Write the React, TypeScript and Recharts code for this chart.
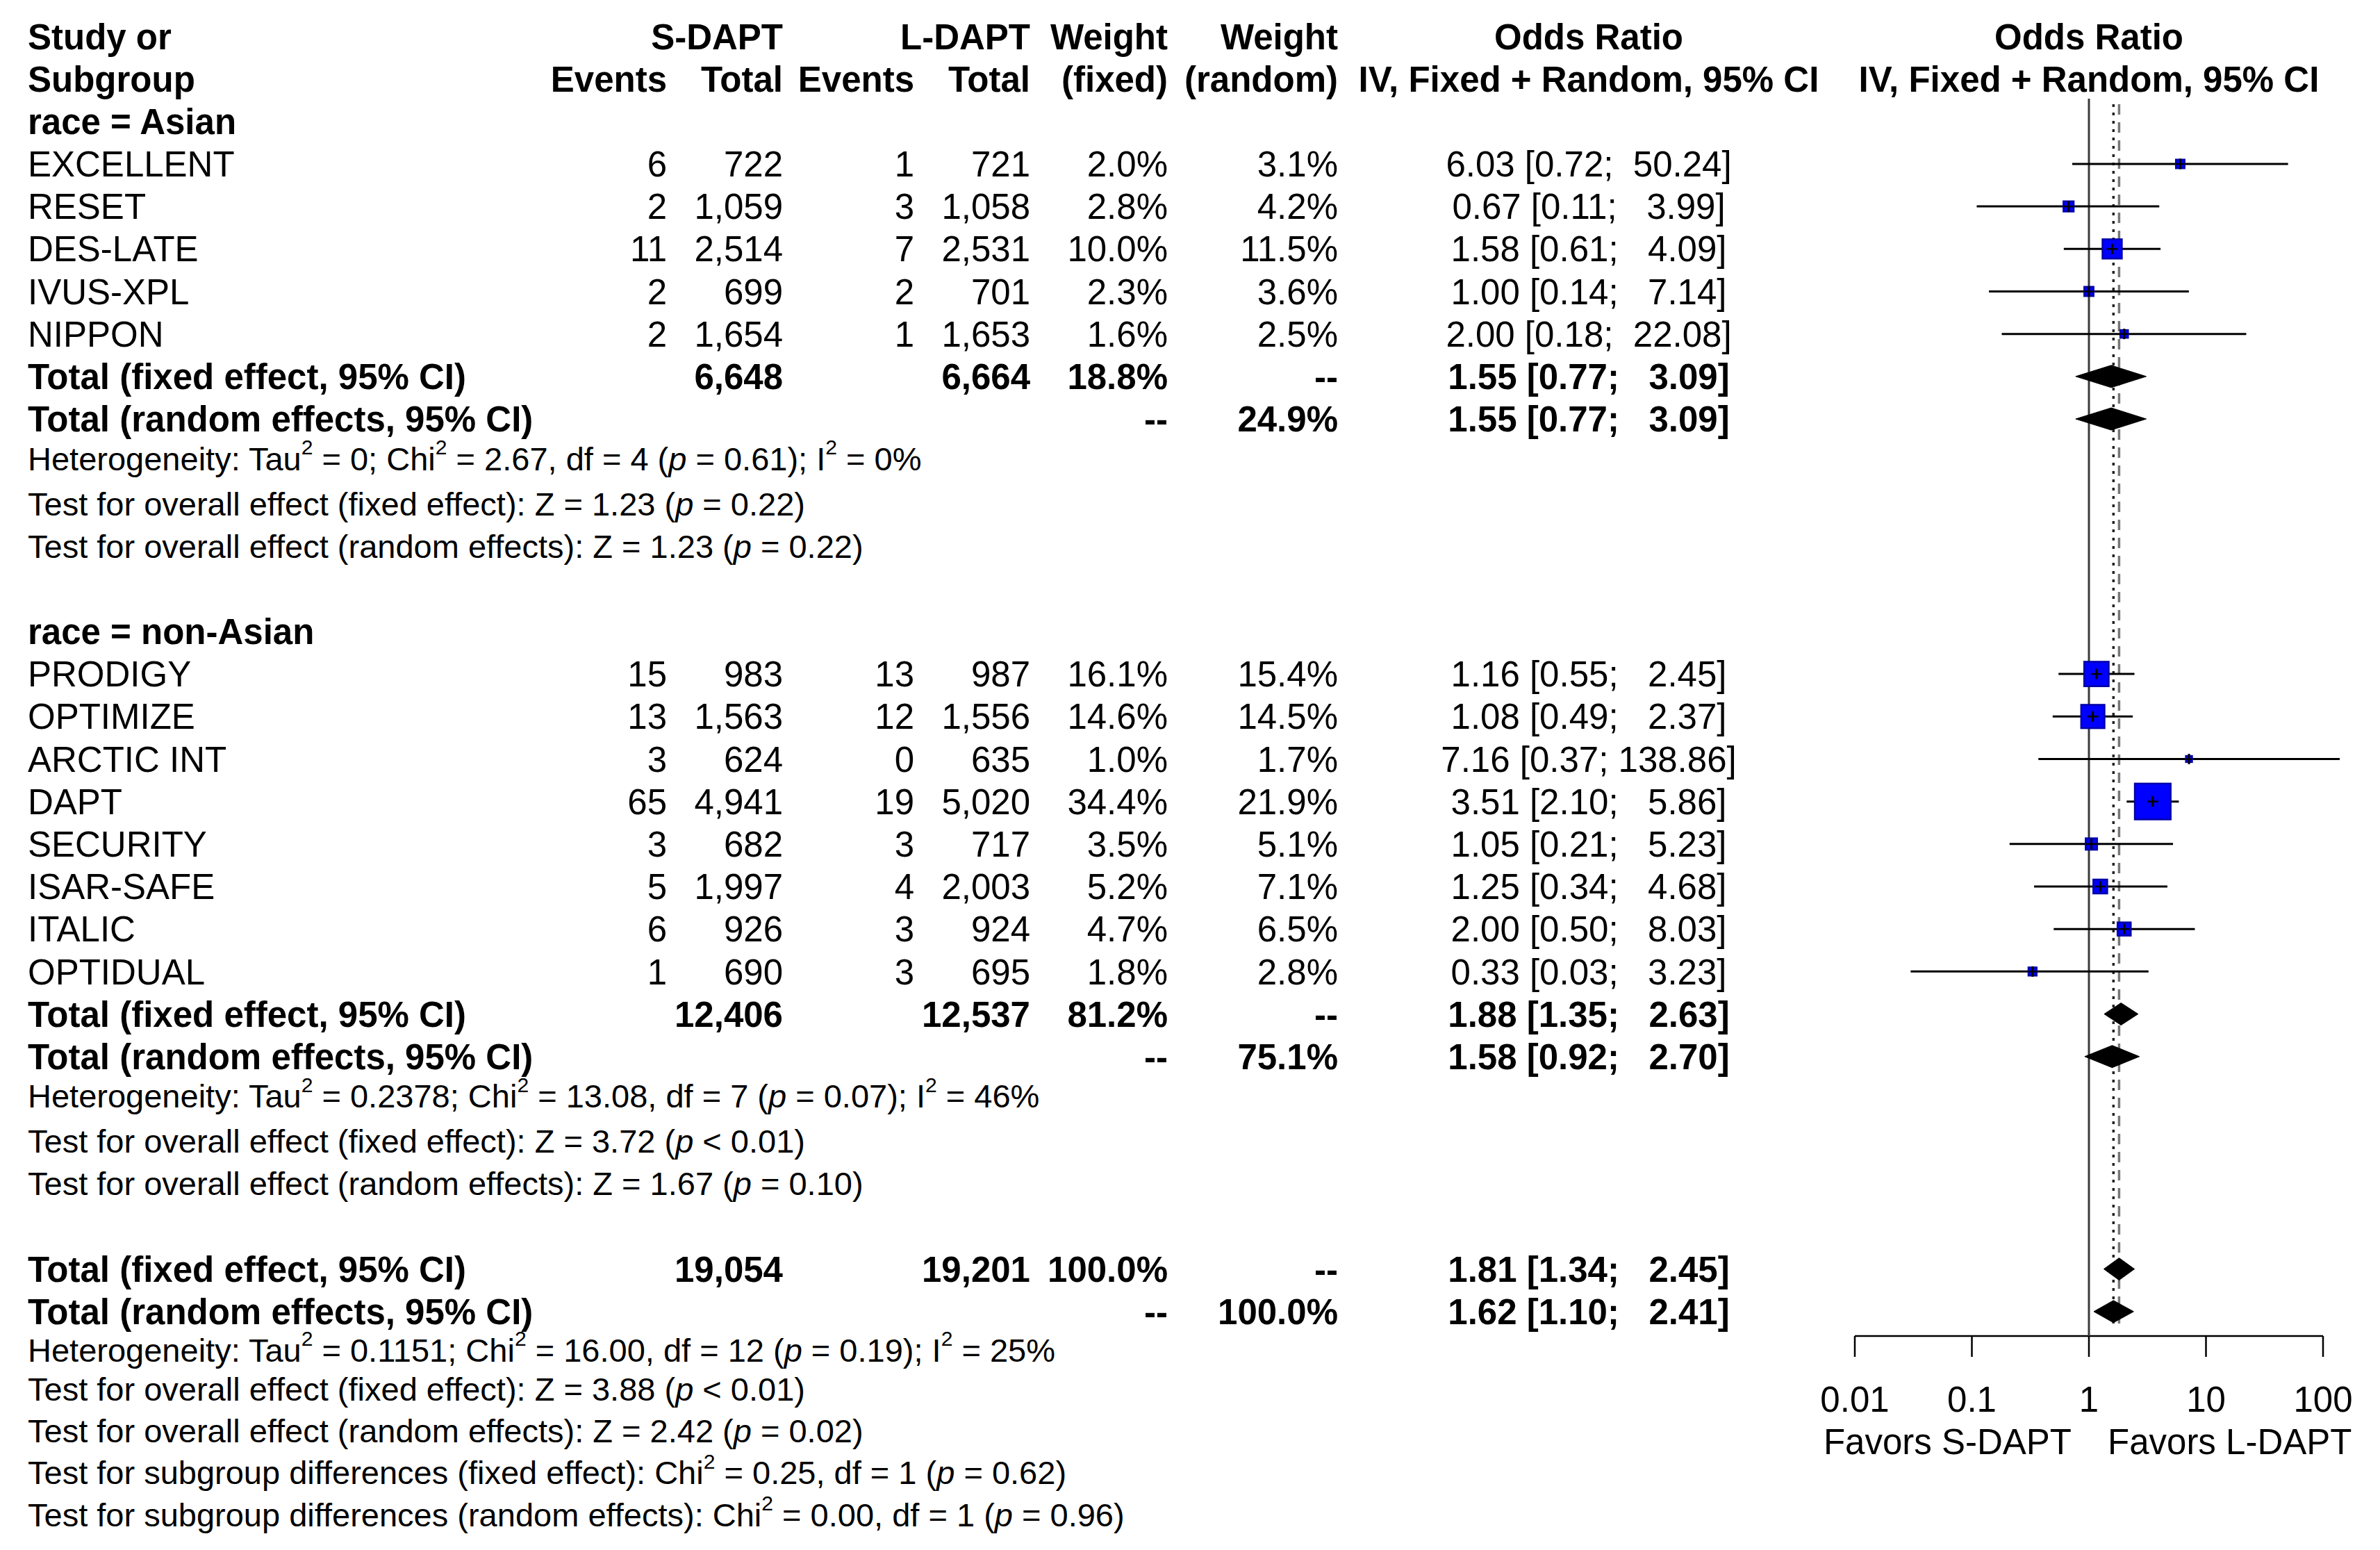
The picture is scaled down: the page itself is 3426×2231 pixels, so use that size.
import React from "react";
import { ErrorBar, ReferenceLine, Scatter, ScatterChart, XAxis, YAxis } from "recharts";

const FONT = "'Liberation Sans', Arial, Helvetica, sans-serif";
const W = 3426;
const H = 2231;

// ---- study level data ----
const studies = ["EXCELLENT", "RESET", "DES-LATE", "IVUS-XPL", "NIPPON", "PRODIGY", "OPTIMIZE", "ARCTIC INT", "DAPT", "SECURITY", "ISAR-SAFE", "ITALIC", "OPTIDUAL"];
const subgroup = ["Asian", "Asian", "Asian", "Asian", "Asian", "non-Asian", "non-Asian", "non-Asian", "non-Asian", "non-Asian", "non-Asian", "non-Asian", "non-Asian"];
const sEvents = [6, 2, 11, 2, 2, 15, 13, 3, 65, 3, 5, 6, 1];
const sTotal = [722, 1059, 2514, 699, 1654, 983, 1563, 624, 4941, 682, 1997, 926, 690];
const lEvents = [1, 3, 7, 2, 1, 13, 12, 0, 19, 3, 4, 3, 3];
const lTotal = [721, 1058, 2531, 701, 1653, 987, 1556, 635, 5020, 717, 2003, 924, 695];
const wFixed = [2.0, 2.8, 10.0, 2.3, 1.6, 16.1, 14.6, 1.0, 34.4, 3.5, 5.2, 4.7, 1.8];
const wRandom = [3.1, 4.2, 11.5, 3.6, 2.5, 15.4, 14.5, 1.7, 21.9, 5.1, 7.1, 6.5, 2.8];
const oddsRatio = [6.03, 0.67, 1.58, 1.0, 2.0, 1.16, 1.08, 7.16, 3.51, 1.05, 1.25, 2.0, 0.33];
const ciLower = [0.72, 0.11, 0.61, 0.14, 0.18, 0.55, 0.49, 0.37, 2.1, 0.21, 0.34, 0.5, 0.03];
const ciUpper = [50.24, 3.99, 4.09, 7.14, 22.08, 2.45, 2.37, 138.86, 5.86, 5.23, 4.68, 8.03, 3.23];

// ---- pooled estimates ----
const pooledGroup = ["Asian", "Asian", "non-Asian", "non-Asian", "Overall", "Overall"];
const pooledLabel = ["Total (fixed effect, 95% CI)", "Total (random effects, 95% CI)", "Total (fixed effect, 95% CI)", "Total (random effects, 95% CI)", "Total (fixed effect, 95% CI)", "Total (random effects, 95% CI)"];
const pooledSTotal = [6648, null, 12406, null, 19054, null];
const pooledLTotal = [6664, null, 12537, null, 19201, null];
const pooledWFixed = [18.8, null, 81.2, null, 100.0, null];
const pooledWRandom = [null, 24.9, null, 75.1, null, 100.0];
const pooledOR = [1.55, 1.55, 1.88, 1.58, 1.81, 1.62];
const pooledLower = [0.77, 0.77, 1.35, 0.92, 1.34, 1.1];
const pooledUpper = [3.09, 3.09, 2.63, 2.7, 2.45, 2.41];

// ---- test statistics (^2 = superscript, _p_ = italic p) ----
const asianStats = [
  "Heterogeneity: Tau^2 = 0; Chi^2 = 2.67, df = 4 (_p_ = 0.61); I^2 = 0%",
  "Test for overall effect (fixed effect): Z = 1.23 (_p_ = 0.22)",
  "Test for overall effect (random effects): Z = 1.23 (_p_ = 0.22)",
];
const nonAsianStats = [
  "Heterogeneity: Tau^2 = 0.2378; Chi^2 = 13.08, df = 7 (_p_ = 0.07); I^2 = 46%",
  "Test for overall effect (fixed effect): Z = 3.72 (_p_ < 0.01)",
  "Test for overall effect (random effects): Z = 1.67 (_p_ = 0.10)",
];
const overallStats = [
  "Heterogeneity: Tau^2 = 0.1151; Chi^2 = 16.00, df = 12 (_p_ = 0.19); I^2 = 25%",
  "Test for overall effect (fixed effect): Z = 3.88 (_p_ < 0.01)",
  "Test for overall effect (random effects): Z = 2.42 (_p_ = 0.02)",
  "Test for subgroup differences (fixed effect): Chi^2 = 0.25, df = 1 (_p_ = 0.62)",
  "Test for subgroup differences (random effects): Chi^2 = 0.00, df = 1 (_p_ = 0.96)",
];

const oddsTicks = [0.01, 0.1, 1, 10, 100];
const favorsLabels = ["Favors S-DAPT", "Favors L-DAPT"];

// ---- layout ----
const ROW0 = 52.4; // pixel centre of line 0
const ROW_H = 61.18;
const rowPx = (k: number) => ROW0 + ROW_H * k;
const PLOT_TOP = 142;
const PLOT_BOTTOM = 1923;
const X_ONE = 3007; // pixel of OR = 1
const DECADE = 168.5;
// the log axis runs from 0.01 to the widest CI (the library widens the domain to the data)
const xMax = Math.max(oddsTicks[oddsTicks.length - 1], ...ciUpper);
const PLOT_LEFT = X_ONE + DECADE * Math.log10(oddsTicks[0]);
const PLOT_RIGHT_EDGE = X_ONE + DECADE * Math.log10(xMax);
const Y_DOMAIN = [(PLOT_TOP - ROW0) / ROW_H, (PLOT_BOTTOM - ROW0) / ROW_H];
const FS = 51;
const FS_SMALL = 47;
const DIAMOND_H = 16 / ROW_H;
const COL = { label: 40, sEv: 960, sTot: 1127, lEv: 1316, lTot: 1483, wFix: 1681, wRan: 1926, or: 2287 };

const groupLayout: Record<string, { head?: number; first?: number; pooled: number; stats: number[] }> = {
  Asian: { head: 2, first: 3, pooled: 8, stats: [9.93, 11, 12] },
  "non-Asian": { head: 14, first: 15, pooled: 23, stats: [24.93, 25.99, 26.99] },
  Overall: { pooled: 29, stats: [30.9, 31.83, 32.81, 33.79, 34.78] },
};

const fmtInt = (n: number | null) => (n == null ? "" : n.toLocaleString("en-US"));
const fmtW = (v: number | null) => (v == null ? "--" : v.toFixed(1) + "%");
const fmtOR = (e: number, lo: number, hi: number) => `${e.toFixed(2)} [${lo.toFixed(2)}; ${hi.toFixed(2).padStart(6, " ")}]`;

type Cell = { text: string; x: number; anchor: "start" | "middle" | "end"; bold?: boolean; size?: number; rich?: boolean };
type TextRow = { y: number; cells: Cell[] };

const textRows: TextRow[] = [];
const addRow = (k: number, cells: Cell[]) => textRows.push({ y: rowPx(k), cells });

addRow(0, [
  { text: "Study or", x: COL.label, anchor: "start", bold: true },
  { text: "S-DAPT", x: COL.sTot, anchor: "end", bold: true },
  { text: "L-DAPT", x: COL.lTot, anchor: "end", bold: true },
  { text: "Weight", x: COL.wFix, anchor: "end", bold: true },
  { text: "Weight", x: COL.wRan, anchor: "end", bold: true },
  { text: "Odds Ratio", x: COL.or, anchor: "middle", bold: true },
  { text: "Odds Ratio", x: X_ONE, anchor: "middle", bold: true },
]);
addRow(1, [
  { text: "Subgroup", x: COL.label, anchor: "start", bold: true },
  { text: "Events", x: COL.sEv, anchor: "end", bold: true },
  { text: "Total", x: COL.sTot, anchor: "end", bold: true },
  { text: "Events", x: COL.lEv, anchor: "end", bold: true },
  { text: "Total", x: COL.lTot, anchor: "end", bold: true },
  { text: "(fixed)", x: COL.wFix, anchor: "end", bold: true },
  { text: "(random)", x: COL.wRan, anchor: "end", bold: true },
  { text: "IV, Fixed + Random, 95% CI", x: COL.or, anchor: "middle", bold: true },
  { text: "IV, Fixed + Random, 95% CI", x: X_ONE, anchor: "middle", bold: true },
]);

const studyRowK: number[] = [];
const pooledRowK: number[] = [];
Object.keys(groupLayout).forEach((g) => {
  const lay = groupLayout[g];
  if (lay.head != null) addRow(lay.head, [{ text: `race = ${g}`, x: COL.label, anchor: "start", bold: true }]);
  let r = lay.first ?? 0;
  studies.forEach((name, i) => {
    if (subgroup[i] !== g) return;
    studyRowK[i] = r;
    addRow(r, [
      { text: name, x: COL.label, anchor: "start" },
      { text: fmtInt(sEvents[i]), x: COL.sEv, anchor: "end" },
      { text: fmtInt(sTotal[i]), x: COL.sTot, anchor: "end" },
      { text: fmtInt(lEvents[i]), x: COL.lEv, anchor: "end" },
      { text: fmtInt(lTotal[i]), x: COL.lTot, anchor: "end" },
      { text: fmtW(wFixed[i]), x: COL.wFix, anchor: "end" },
      { text: fmtW(wRandom[i]), x: COL.wRan, anchor: "end" },
      { text: fmtOR(oddsRatio[i], ciLower[i], ciUpper[i]), x: COL.or, anchor: "middle" },
    ]);
    r += 1;
  });
  let p = lay.pooled;
  pooledGroup.forEach((pg, j) => {
    if (pg !== g) return;
    pooledRowK[j] = p;
    addRow(p, [
      { text: pooledLabel[j], x: COL.label, anchor: "start", bold: true },
      { text: fmtInt(pooledSTotal[j]), x: COL.sTot, anchor: "end", bold: true },
      { text: fmtInt(pooledLTotal[j]), x: COL.lTot, anchor: "end", bold: true },
      { text: fmtW(pooledWFixed[j]), x: COL.wFix, anchor: "end", bold: true },
      { text: fmtW(pooledWRandom[j]), x: COL.wRan, anchor: "end", bold: true },
      { text: fmtOR(pooledOR[j], pooledLower[j], pooledUpper[j]), x: COL.or, anchor: "middle", bold: true },
    ]);
    p += 1;
  });
  const stats = g === "Asian" ? asianStats : g === "non-Asian" ? nonAsianStats : overallStats;
  stats.forEach((s, k) => addRow(lay.stats[k], [{ text: s, x: COL.label, anchor: "start", size: FS_SMALL, rich: true }]));
});
textRows.push({
  y: 2075,
  cells: [
    { text: favorsLabels[0], x: X_ONE - 25, anchor: "end" },
    { text: favorsLabels[1], x: X_ONE + 27, anchor: "start" },
  ],
});

const studyPoints = studies.map((name, i) => ({
  name,
  x: oddsRatio[i],
  y: studyRowK[i],
  w: wFixed[i],
  errX: [oddsRatio[i] - ciLower[i], ciUpper[i] - oddsRatio[i]],
}));

const diamonds = pooledOR.map((e, j) => [
  { x: pooledLower[j], y: pooledRowK[j] },
  { x: e, y: pooledRowK[j] - DIAMOND_H },
  { x: pooledUpper[j], y: pooledRowK[j] },
  { x: e, y: pooledRowK[j] + DIAMOND_H },
]);

function richSpans(s: string, fs: number) {
  const parts = s.split(/(\^2|_p_)/);
  const out: React.ReactNode[] = [];
  let raised = false;
  parts.forEach((part, i) => {
    if (!part) return;
    if (part === "^2") {
      out.push(<tspan key={i} dy={-0.48 * fs} fontSize={fs * 0.64}>2</tspan>);
      raised = true;
      return;
    }
    const dy = raised ? 0.48 * fs : 0;
    raised = false;
    if (part === "_p_") out.push(<tspan key={i} dy={dy} fontStyle="italic">p</tspan>);
    else out.push(<tspan key={i} dy={dy}>{part}</tspan>);
  });
  return out;
}

function TableText() {
  return (
    <svg width={W} height={H} style={{ position: "absolute", left: 0, top: 0, pointerEvents: "none" }}>
      {textRows.map((row, ri) =>
        row.cells.map((c, i) => {
          const fs = c.size ?? FS;
          return (
            <text
              key={`${ri}-${i}`}
              x={c.x}
              y={row.y + 0.356 * fs}
              textAnchor={c.anchor}
              fontFamily={FONT}
              fontSize={fs}
              fontWeight={c.bold ? 700 : 400}
              fill="#000"
              xmlSpace="preserve"
              style={{ whiteSpace: "pre" }}
            >
              {c.rich ? richSpans(c.text, fs) : c.text}
            </text>
          );
        })
      )}
    </svg>
  );
}

function StudySquare(props: any) {
  const { cx, cy, payload } = props;
  const s = 8.8 * Math.sqrt(payload.w);
  const hx = Math.min(s / 2, 8);
  return (
    <g>
      <rect x={cx - s / 2} y={cy - s / 2} width={s} height={s} fill="#0000ff" stroke="#0000a8" strokeWidth={2.5} />
      <line x1={cx - hx} x2={cx + hx} y1={cy} y2={cy} stroke="#000" strokeWidth={2.5} />
      <line x1={cx} x2={cx} y1={cy - 7.5} y2={cy + 7.5} stroke="#000" strokeWidth={3} />
    </g>
  );
}

const drawDiamond = (props: any) => (
  <polygon points={props.points.map((p: any) => `${p.x},${p.y}`).join(" ")} fill="#000" stroke="#000" strokeWidth={1} />
);
const emptyShape = () => <g />;

const LINE_TOP = (150 - ROW0) / ROW_H;
const LINE_END = (1905 - ROW0) / ROW_H;

export default function App() {
  return (
    <div style={{ position: "relative", width: W, height: H, background: "#fff" }}>
      <style>{"html,body{margin:0;padding:0;overflow:hidden;background:#fff}"}</style>
      <ScatterChart
        width={W}
        height={H}
        margin={{ top: PLOT_TOP, right: W - PLOT_RIGHT_EDGE, bottom: 8, left: PLOT_LEFT }}
      >
        <XAxis
          type="number"
          dataKey="x"
          scale="log"
          domain={[oddsTicks[0], oddsTicks[oddsTicks.length - 1]]}
          ticks={oddsTicks}
          interval={0}
          tickFormatter={(v: number) => String(v)}
          tickSize={30}
          tickMargin={43}
          height={H - 8 - PLOT_BOTTOM}
          axisLine={false}
          tickLine={{ stroke: "#000", strokeWidth: 2.5 }}
          tick={{ fill: "#000", fontSize: FS, fontFamily: FONT }}
        />
        <YAxis type="number" dataKey="y" hide reversed width={0} domain={Y_DOMAIN} />
        <ReferenceLine
          segment={[{ x: oddsTicks[0], y: Y_DOMAIN[1] }, { x: oddsTicks[oddsTicks.length - 1], y: Y_DOMAIN[1] }]}
          stroke="#000"
          strokeWidth={2.5}
          ifOverflow="visible"
        />
        <ReferenceLine x={1} stroke="#3a3a3a" strokeWidth={3} />
        <ReferenceLine
          segment={[{ x: pooledOR[4], y: LINE_TOP }, { x: pooledOR[4], y: LINE_END }]}
          stroke="#777"
          strokeWidth={3.5}
          strokeDasharray="15 11"
        />
        <ReferenceLine
          segment={[{ x: pooledOR[5], y: LINE_TOP }, { x: pooledOR[5], y: LINE_END }]}
          stroke="#222"
          strokeWidth={3.5}
          strokeDasharray="4 8"
        />
        <Scatter data={studyPoints} shape={StudySquare} isAnimationActive={false}>
          <ErrorBar dataKey="errX" direction="x" width={0} stroke="#000" strokeWidth={3} isAnimationActive={false} />
        </Scatter>
        {diamonds.map((d, j) => (
          <Scatter key={j} data={d} line={drawDiamond} lineType="joint" shape={emptyShape} isAnimationActive={false} />
        ))}
      </ScatterChart>
      <TableText />
    </div>
  );
}
